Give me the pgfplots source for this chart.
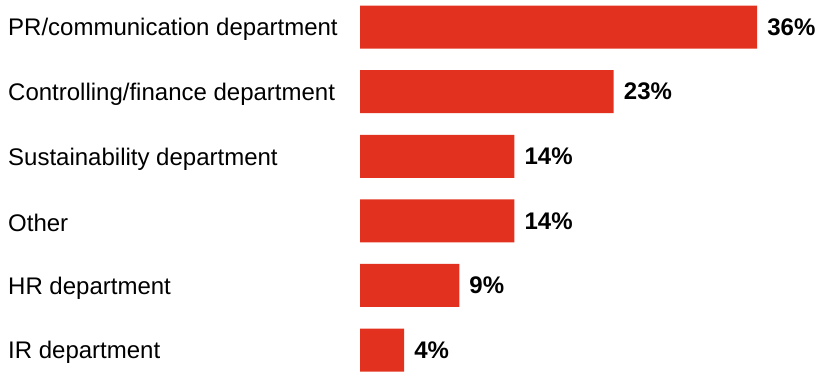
\documentclass[border=0pt]{standalone}
\usepackage{pgfplots}
\pgfplotsset{compat=1.18}
\usepackage{fontspec}
\setmainfont{Liberation Sans}
\definecolor{barred}{HTML}{E2321F}
\begin{document}
\begin{tikzpicture}[x=1pt,y=1pt]
\begin{axis}[
  at={(360pt,0pt)}, anchor=south west,
  scale only axis, width=458pt, height=372pt,
  xbar, bar width=43pt, bar shift=0pt,
  xmin=0, xmax=41.52,
  ymin=-0.42, ymax=5.34, y dir=reverse,
  axis lines=left,
  axis line style={draw=none},
  major tick length=0pt,
  xtick=\empty,
  ytick={0,1,2,3,4,5},
  yticklabels={PR/communication department,Controlling/finance department,Sustainability department,Other,HR department,IR department},
  yticklabel style={anchor=west, xshift=-352pt, yshift=-2.5pt, font=\fontsize{24}{28}\selectfont, inner sep=0pt},
  clip=false,
  /pgf/number format/assume math mode=true,
  nodes near coords={\pgfmathprintnumber{\pgfplotspointmeta}\%},
  point meta=explicit,
  nodes near coords style={font=\bfseries\fontsize{24}{28}\selectfont, anchor=west, xshift=10pt, inner sep=0pt},
]
\addplot[fill=barred, draw=none] coordinates {(36,0) [36] (23,1) [23] (14,2) [14] (14,3) [14] (9,4) [9] (4,5) [4]};
\end{axis}
\pgfresetboundingbox
\useasboundingbox (0pt,0pt) rectangle (818pt,372pt);
\end{tikzpicture}
\end{document}
